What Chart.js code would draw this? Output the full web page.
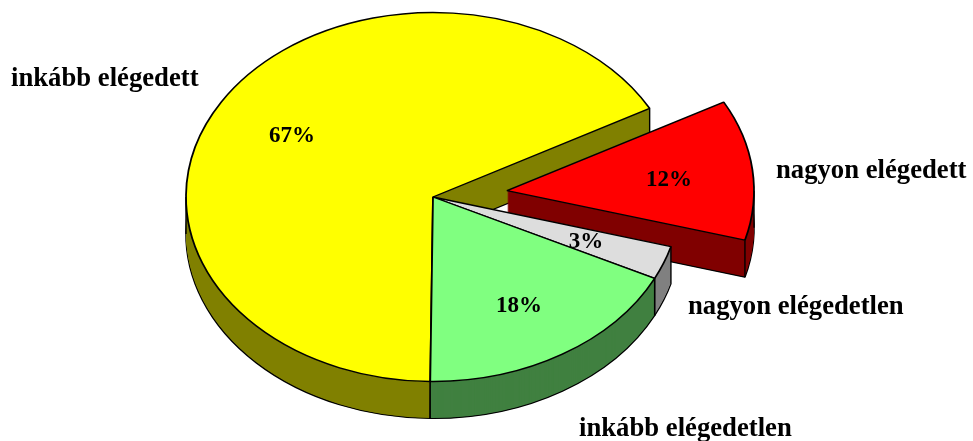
<!DOCTYPE html>
<html>
<head>
<meta charset="utf-8">
<style>html,body{margin:0;padding:0;background:#fff}canvas{display:block}</style>
<script src="https://cdn.jsdelivr.net/npm/chart.js@4"></script>
</head>
<body>
<canvas id="c" width="973" height="441"></canvas>
<script>
// Data (clockwise from the rotation angle)
const categories = ['nagyon elégedett', 'nagyon elégedetlen', 'inkább elégedetlen', 'inkább elégedett'];
const shares = [12.3, 2.95, 17.9, 66.85];
const percentLabels = ['12%', '3%', '18%', '67%'];

// Styling
const topColors = ['#FF0000', '#DDDDDD', '#80FF80', '#FFFF00'];
const wallColors = ['#800000', '#808080', '#408040', '#808000'];
const explode = [74.5, 0, 0, 0];
const paintOrder = [3, 0, 1, 2];
const PERCENT_FONT = 'bold 23px "Liberation Serif", "Times New Roman", serif';
const NAME_FONT = 'bold 26.7px "Liberation Serif", "Times New Roman", serif';
const view = { cx: 433, cy: 197, radius: 247, tilt: 0.747, depth: 37, rotation: 61.3 };
const percentAt = [[669, 180], [586, 242], [519, 306], [292, 136]];
const nameAt = [[776, 171, 'left'], [688, 307, 'left'], [579, 429, 'left'], [11, 79, 'left']];

function drawArc(arc, ctx, bg, bw) {
  const saved = arc.options;
  const o = Object.create(saved);
  o.backgroundColor = bg; o.borderWidth = bw; o.borderColor = '#000'; o.offset = 0;
  arc.options = o;
  arc.draw(ctx);
  arc.options = saved;
}
function inArc(a, s, e) {
  const T = Math.PI * 2;
  return ((a - s) % T + T) % T <= e - s;
}
const pie3d = {
  id: 'pie3d',
  beforeDatasetDraw(chart, args) {
    const ctx = chart.ctx, arcs = args.meta.data;
    const lift = view.depth / view.tilt;
    ctx.save();
    ctx.translate(view.cx, view.cy);
    ctx.scale(1, view.tilt);
    ctx.translate(-arcs[0].x, -arcs[0].y);
    ctx.lineJoin = 'round';
    paintOrder.forEach(i => {
      const arc = arcs[i];
      const mid = (arc.startAngle + arc.endAngle) / 2;
      ctx.save();
      ctx.translate(Math.cos(mid) * explode[i], Math.sin(mid) * explode[i]);
      // wall: stacked layers, deepest one outlined
      for (let d = view.depth; d >= 1; d--) {
        ctx.save();
        ctx.translate(0, d / view.tilt);
        drawArc(arc, ctx, wallColors[i], d === view.depth ? 1.6 : 0);
        ctx.restore();
      }
      // vertical edges at the corners and silhouette
      const angles = [arc.startAngle, arc.endAngle];
      [0, Math.PI].forEach(a => { if (inArc(a, arc.startAngle, arc.endAngle)) angles.push(a); });
      ctx.beginPath();
      angles.forEach(a => {
        const x = arc.x + Math.cos(a) * arc.outerRadius, y = arc.y + Math.sin(a) * arc.outerRadius;
        ctx.moveTo(x, y); ctx.lineTo(x, y + lift);
      });
      ctx.strokeStyle = '#000'; ctx.lineWidth = 1.4; ctx.stroke();
      // top face
      drawArc(arc, ctx, topColors[i], 1.8);
      ctx.restore();
    });
    ctx.restore();
    return false;
  },
  afterDatasetsDraw(chart) {
    const ctx = chart.ctx;
    ctx.save();
    ctx.fillStyle = '#000';
    ctx.textBaseline = 'middle';
    ctx.textAlign = 'center';
    ctx.font = PERCENT_FONT;
    percentLabels.forEach((t, i) => ctx.fillText(t, percentAt[i][0], percentAt[i][1]));
    ctx.font = NAME_FONT;
    categories.forEach((t, i) => {
      ctx.textAlign = nameAt[i][2];
      ctx.fillText(t, nameAt[i][0], nameAt[i][1]);
    });
    ctx.restore();
  }
};
new Chart(document.getElementById('c'), {
  type: 'pie',
  data: { labels: categories, datasets: [{ data: shares, backgroundColor: topColors, borderColor: '#000', borderWidth: 1 }] },
  options: {
    responsive: false,
    animation: false,
    events: [],
    rotation: view.rotation,
    radius: view.radius,
    layout: { padding: 0 },
    plugins: { legend: { display: false }, tooltip: { enabled: false }, title: { display: false } }
  },
  plugins: [pie3d]
});
</script>
</body>
</html>
